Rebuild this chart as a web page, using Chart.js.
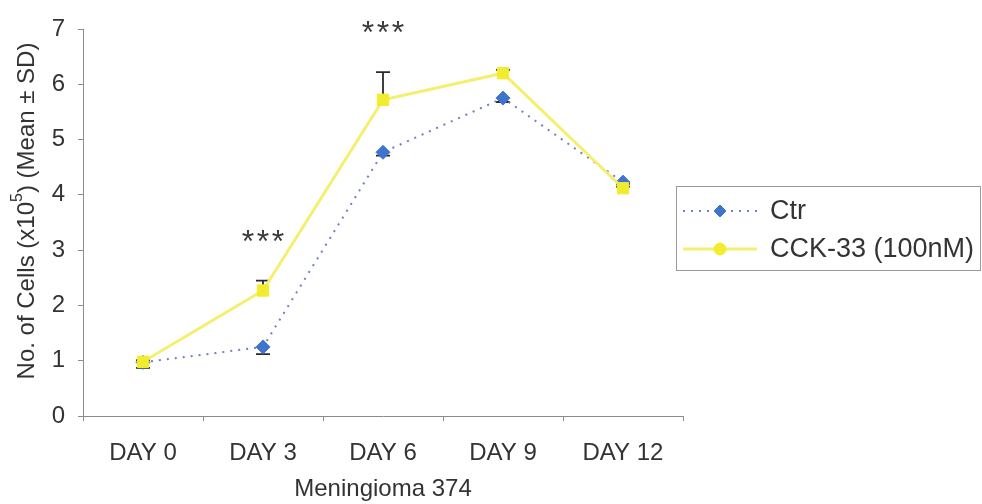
<!DOCTYPE html>
<html>
<head>
<meta charset="utf-8">
<title>Meningioma 374 cell growth</title>
<script src="https://cdn.jsdelivr.net/npm/chart.js@4.4.1/dist/chart.umd.min.js"></script>
<style>
  html, body { margin: 0; padding: 0; background: #ffffff; }
  #wrap { width: 982px; height: 504px; }
</style>
</head>
<body>
<div id="wrap"><canvas id="chart" width="982" height="504"></canvas></div>
<script>
// Time points and cell counts (x10^5), mean and SD
const days = ['DAY 0', 'DAY 3', 'DAY 6', 'DAY 9', 'DAY 12'];
const ctrMean = [0.97, 1.25, 4.77, 5.75, 4.23];
const ctrSD   = [0.10, 0.13, 0.06, 0.07, 0.03];
const cckMean = [0.98, 2.27, 5.72, 6.20, 4.12];
const cckSD   = [0.03, 0.18, 0.50, 0.06, 0.03];
// significance marks per time point
const significance = ['', '***', '***', '', ''];

const yTicks = [0, 1, 2, 3, 4, 5, 6, 7];

const FONT = '"Liberation Sans", Arial, sans-serif';
const TEXT = '#333333';

// Error bars (control downward, treatment upward), drawn beneath the markers
const errorBars = {
  id: 'errorBars',
  beforeDatasetsDraw(chart) {
    const ctx = chart.ctx;
    const xs = chart.scales.x;
    const ys = chart.scales.y;
    const sets = [
      { mean: ctrMean, sd: ctrSD, dir: -1 },
      { mean: cckMean, sd: cckSD, dir: 1 }
    ];
    ctx.save();
    ctx.setLineDash([]);
    ctx.strokeStyle = '#2a2a2a';
    ctx.lineWidth = 1.8;
    for (const s of sets) {
      for (let i = 0; i < s.mean.length; i++) {
        const px = xs.getPixelForValue(i);
        const y0 = ys.getPixelForValue(s.mean[i]);
        const y1 = ys.getPixelForValue(s.mean[i] + s.dir * s.sd[i]);
        ctx.beginPath();
        ctx.moveTo(px, y0);
        ctx.lineTo(px, y1);
        ctx.moveTo(px - 7, y1);
        ctx.lineTo(px + 7, y1);
        ctx.stroke();
      }
    }
    ctx.restore();
  }
};

// Significance asterisks above each marked time point
const stars = {
  id: 'stars',
  afterDraw(chart) {
    const ctx = chart.ctx;
    const xs = chart.scales.x;
    const ys = chart.scales.y;
    ctx.save();
    ctx.fillStyle = '#3a3a3a';
    ctx.font = '32px ' + FONT;
    ctx.textAlign = 'center';
    ctx.textBaseline = 'middle';
    significance.forEach((s, i) => {
      if (!s) return;
      const top = Math.max(cckMean[i] + cckSD[i], ctrMean[i] + ctrSD[i]);
      const py = ys.getPixelForValue(top + 0.75) + 4;
      const px = xs.getPixelForValue(i);
      const n = s.length;
      for (let k = 0; k < n; k++) {
        ctx.fillText('*', px + (k - (n - 1) / 2) * 15, py);
      }
    });
    ctx.restore();
  }
};

// Rotated y-axis title with a superscript exponent
const yTitle = {
  id: 'yTitle',
  afterDraw(chart) {
    const { ctx } = chart;
    const parts = [
      { t: 'No. of Cells (x10', size: 24, dy: 0 },
      { t: '5', size: 16, dy: -9 },
      { t: ') (Mean \u00b1 SD)', size: 24, dy: 0 }
    ];
    ctx.save();
    let total = 0;
    parts.forEach(p => { ctx.font = p.size + 'px ' + FONT; p.w = ctx.measureText(p.t).width; total += p.w; });
    ctx.translate(27, 211);
    ctx.rotate(-Math.PI / 2);
    ctx.fillStyle = TEXT;
    ctx.textBaseline = 'middle';
    ctx.textAlign = 'left';
    let cx = -total / 2;
    parts.forEach(p => {
      ctx.font = p.size + 'px ' + FONT;
      ctx.fillText(p.t, cx, p.dy);
      cx += p.w;
    });
    ctx.restore();
  }
};

// Boxed legend to the right of the plot
const boxLegend = {
  id: 'boxLegend',
  afterDraw(chart) {
    const { ctx } = chart;
    const left = 676, top = 186, right = 980, bottom = 270;
    ctx.save();
    ctx.strokeStyle = '#9a9a9a';
    ctx.lineWidth = 1;
    ctx.strokeRect(left + 0.5, top + 0.5, right - left, bottom - top);
    const rows = [211, 249];
    chart.data.datasets.forEach((ds, i) => {
      const yy = rows[i];
      ctx.save();
      ctx.strokeStyle = ds.borderColor;
      ctx.lineWidth = ds.borderWidth;
      ctx.setLineDash(ds.borderDash || []);
      ctx.beginPath();
      ctx.moveTo(683, yy);
      ctx.lineTo(757, yy);
      ctx.stroke();
      ctx.restore();
      ctx.fillStyle = ds.pointBackgroundColor;
      ctx.strokeStyle = ds.pointBorderColor;
      Chart.helpers.drawPoint(ctx, {
        pointStyle: ds.legendPointStyle,
        radius: ds.legendPointRadius,
        borderWidth: 1
      }, 720, yy);
      ctx.fillStyle = TEXT;
      ctx.font = '27px ' + FONT;
      ctx.textBaseline = 'middle';
      ctx.textAlign = 'left';
      ctx.fillText(ds.label, 770, yy + 1);
    });
    ctx.restore();
  }
};

new Chart(document.getElementById('chart'), {
  type: 'line',
  data: {
    labels: days,
    datasets: [
      {
        label: 'Ctr',
        data: ctrMean,
        order: 1,
        borderColor: '#6f7fc4',
        borderWidth: 2,
        borderDash: [2, 6],
        pointStyle: 'rectRot',
        pointRadius: 7,
        legendPointStyle: 'rectRot',
        legendPointRadius: 6,
        pointBackgroundColor: '#3f74cc',
        pointBorderColor: '#3f74cc',
        pointBorderWidth: 1,
        tension: 0
      },
      {
        label: 'CCK-33 (100nM)',
        data: cckMean,
        order: 0,
        borderColor: '#f4ef6e',
        borderWidth: 3,
        pointStyle: 'rect',
        pointRadius: 8,
        legendPointStyle: 'circle',
        legendPointRadius: 6,
        pointBackgroundColor: '#f1ec2e',
        pointBorderColor: '#f1ec2e',
        pointBorderWidth: 1,
        tension: 0
      }
    ]
  },
  options: {
    responsive: false,
    animation: false,
    events: [],
    layout: { padding: { left: 0, top: 29, right: 299, bottom: 0 } },
    plugins: { legend: { display: false }, tooltip: { enabled: false } },
    scales: {
      x: {
        offset: true,
        grid: {
          offset: true,
          drawOnChartArea: false,
          tickLength: 5,
          color: '#8c8c8c'
        },
        border: { color: '#8c8c8c', width: 1 },
        ticks: { color: TEXT, font: { family: FONT, size: 24 }, padding: 18, maxRotation: 0 },
        title: {
          display: true,
          text: 'Meningioma 374',
          color: TEXT,
          font: { family: FONT, size: 24 },
          padding: { top: 0, bottom: 0 }
        },
        afterFit(scale) { scale.height = 88; }
      },
      y: {
        min: 0,
        max: 7,
        afterBuildTicks(scale) { scale.ticks = yTicks.map(v => ({ value: v })); },
        grid: {
          drawOnChartArea: false,
          tickLength: 5,
          color: '#8c8c8c'
        },
        border: { color: '#8c8c8c', width: 1 },
        ticks: { color: TEXT, font: { family: FONT, size: 24 }, padding: 13 },
        afterFit(scale) { scale.width = 83; }
      }
    }
  },
  plugins: [errorBars, stars, yTitle, boxLegend]
});
</script>
</body>
</html>
